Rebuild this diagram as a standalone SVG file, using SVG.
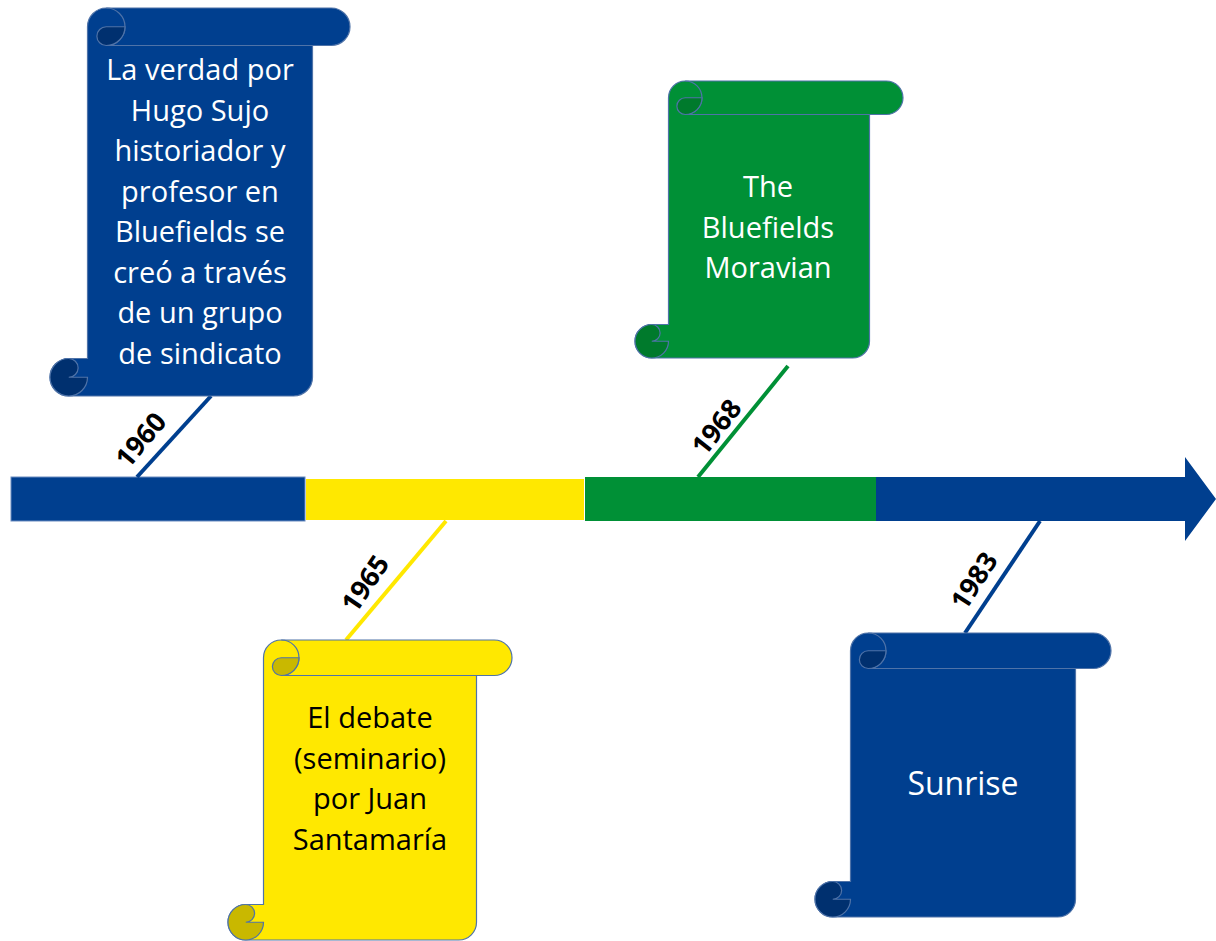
<svg xmlns="http://www.w3.org/2000/svg" width="1216" height="941" viewBox="0 0 1216 941">
<style>
.blue{fill:#003f8f}
.blued{fill:#00306f}
.green{fill:#009036}
.greend{fill:#007a2c}
.yellow{fill:#ffe800}
.yellowd{fill:#c9b800}
.ol{stroke:#4f73a8;stroke-width:1.2;fill:none}
.olf{stroke:#4f73a8;stroke-width:1.2}
.tw{font-family:"Open Sans","Noto Sans",sans-serif;font-size:29px;fill:#fff;text-anchor:middle}
.tb{font-family:"Open Sans","Noto Sans",sans-serif;font-size:29px;fill:#000;text-anchor:middle}
.yr{font-family:"Open Sans","Noto Sans",sans-serif;font-size:27px;font-weight:700;fill:#000;text-anchor:middle}
</style>
<rect width="1216" height="941" fill="#fff"/>
<g id="timeline">
  <rect x="11" y="477" width="294" height="44" class="blue" stroke="#6a8cc0" stroke-width="1"/>
  <rect x="306" y="479" width="278" height="41" class="yellow"/>
  <rect x="585" y="477" width="291" height="44" class="green"/>
  <polygon points="876,477 1185,477 1185,457 1216,499 1185,541 1185,521 876,521" class="blue"/>
</g>
<g id="connectors" stroke-width="4" stroke-linecap="butt">
  <line x1="137" y1="477" x2="211" y2="396" stroke="#003f8f"/>
  <line x1="446" y1="521" x2="346" y2="640" stroke="#ffe800"/>
  <line x1="698" y1="477" x2="788" y2="366" stroke="#009036"/>
  <line x1="1040" y1="521" x2="965" y2="633" stroke="#003f8f"/>
  <text class="yr" transform="translate(148,446) rotate(-50)">1960</text>
  <text class="yr" transform="translate(373,589) rotate(-56)">1965</text>
  <text class="yr" transform="translate(724,433) rotate(-52)">1968</text>
  <text class="yr" transform="translate(982,586) rotate(-57)">1983</text>
</g>
<g id="scroll1960">
  <path class="blue olf" d="M87.5,358.5 L87.5,26.75 A18.75,18.75 0 0 1 106.25,8 L331.25,8 A18.75,18.75 0 0 1 331.25,45.5 L312.5,45.5 L312.5,377.25 A18.75,18.75 0 0 1 293.75,396 L68.75,396 A18.75,18.75 0 0 1 68.75,358.5 Z"/>
  <path class="ol" d="M331.25,45.5 L106.25,45.5 M106.25,8 A18.75,18.75 0 0 1 106.25,45.5"/>
  <path class="blued olf" d="M106.25,26.75 A9.375,9.375 0 0 0 106.25,45.5 A18.75,18.75 0 0 0 125,26.75 Z"/>
  <path class="blued olf" d="M68.75,358.5 A18.75,18.75 0 0 0 68.75,396 A18.75,18.75 0 0 0 87.5,377.25 L68.75,377.25 A9.375,9.375 0 0 0 68.75,358.5 Z"/>
  <text class="tw" x="200" y="80">La verdad por</text>
  <text class="tw" x="200" y="120.5">Hugo Sujo</text>
  <text class="tw" x="200" y="161">historiador y</text>
  <text class="tw" x="200" y="201.5">profesor en</text>
  <text class="tw" x="200" y="242">Bluefields se</text>
  <text class="tw" x="200" y="282.5">creó a través</text>
  <text class="tw" x="200" y="323">de un grupo</text>
  <text class="tw" x="200" y="363.5">de sindicato</text>
</g>
<g id="scroll1968">
  <path class="green olf" d="M668.5,324.5 L668.5,97.75 A16.75,16.75 0 0 1 685.25,81 L886.25,81 A16.75,16.75 0 0 1 886.25,114.5 L869.5,114.5 L869.5,341.25 A16.75,16.75 0 0 1 852.75,358 L651.75,358 A16.75,16.75 0 0 1 651.75,324.5 Z"/>
  <path class="ol" d="M886.25,114.5 L685.25,114.5 M685.25,81 A16.75,16.75 0 0 1 685.25,114.5"/>
  <path class="greend olf" d="M685.25,97.75 A8.375,8.375 0 0 0 685.25,114.5 A16.75,16.75 0 0 0 702,97.75 Z"/>
  <path class="greend olf" d="M651.75,324.5 A16.75,16.75 0 0 0 651.75,358 A16.75,16.75 0 0 0 668.5,341.25 L651.75,341.25 A8.375,8.375 0 0 0 651.75,324.5 Z"/>
  <text class="tw" x="768" y="197">The</text>
  <text class="tw" x="768" y="237.5">Bluefields</text>
  <text class="tw" x="768" y="278">Moravian</text>
</g>
<g id="scroll1965">
  <path class="yellow olf" d="M263.5,904.5 L263.5,657.75 A17.75,17.75 0 0 1 281.25,640 L494.25,640 A17.75,17.75 0 0 1 494.25,675.5 L476.5,675.5 L476.5,922.25 A17.75,17.75 0 0 1 458.75,940 L245.75,940 A17.75,17.75 0 0 1 245.75,904.5 Z"/>
  <path class="ol" d="M494.25,675.5 L281.25,675.5 M281.25,640 A17.75,17.75 0 0 1 281.25,675.5"/>
  <path class="yellowd olf" d="M281.25,657.75 A8.875,8.875 0 0 0 281.25,675.5 A17.75,17.75 0 0 0 299,657.75 Z"/>
  <path class="yellowd olf" d="M245.75,904.5 A17.75,17.75 0 0 0 245.75,940 A17.75,17.75 0 0 0 263.5,922.25 L245.75,922.25 A8.875,8.875 0 0 0 245.75,904.5 Z"/>
  <text class="tb" x="370" y="728">El debate</text>
  <text class="tb" x="370" y="768.5">(seminario)</text>
  <text class="tb" x="370" y="809">por Juan</text>
  <text class="tb" x="370" y="849.5">Santamaría</text>
</g>
<g id="scroll1983">
  <path class="blue olf" d="M850.5,881.5 L850.5,650.75 A17.75,17.75 0 0 1 868.25,633 L1093.25,633 A17.75,17.75 0 0 1 1093.25,668.5 L1075.5,668.5 L1075.5,899.25 A17.75,17.75 0 0 1 1057.75,917 L832.75,917 A17.75,17.75 0 0 1 832.75,881.5 Z"/>
  <path class="ol" d="M1093.25,668.5 L868.25,668.5 M868.25,633 A17.75,17.75 0 0 1 868.25,668.5"/>
  <path class="blued olf" d="M868.25,650.75 A8.875,8.875 0 0 0 868.25,668.5 A17.75,17.75 0 0 0 886,650.75 Z"/>
  <path class="blued olf" d="M832.75,881.5 A17.75,17.75 0 0 0 832.75,917 A17.75,17.75 0 0 0 850.5,899.25 L832.75,899.25 A8.875,8.875 0 0 0 832.75,881.5 Z"/>
  <text class="tw" x="963" y="795" style="font-size:32px">Sunrise</text>
</g>
</svg>
